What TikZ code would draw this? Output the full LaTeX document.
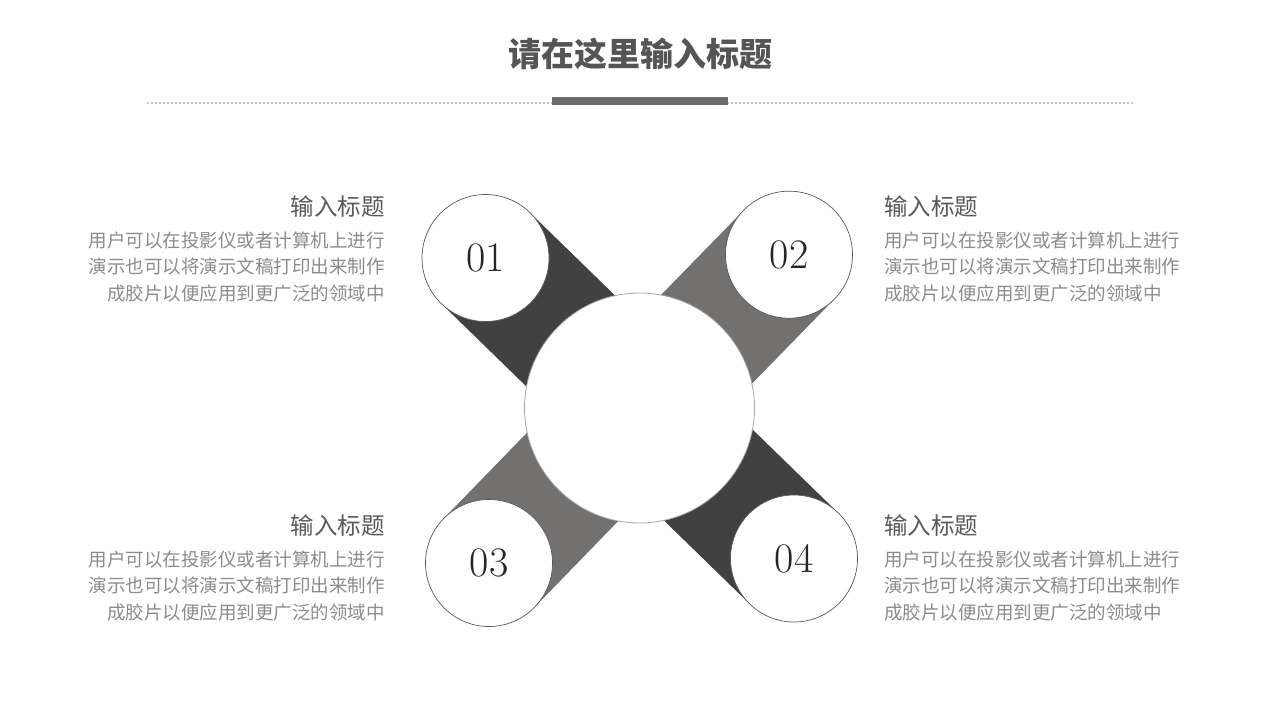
\documentclass[tikz,border=0pt]{standalone}
\usepackage{fontspec}
\newfontfamily\cjk{Noto Sans CJK SC}
\definecolor{dk}{HTML}{414141}
\definecolor{md}{HTML}{737070}
\definecolor{ttl}{HTML}{555555}
\definecolor{hd}{HTML}{595959}
\definecolor{bd}{HTML}{8C8C8C}
\definecolor{bar}{HTML}{6D6D6D}
\tikzset{
  band/.style={line width=127pt},
  smallc/.style={circle,minimum size=127pt,inner sep=0pt,fill=white,draw=black!65,line width=0.7pt,
    font=\fontsize{42}{44}\selectfont,text=black!85},
  bigc/.style={circle,minimum size=230pt,inner sep=0pt,fill=white,draw=black!35,line width=0.8pt},
  head/.style={font=\cjk\fontsize{23.5}{26}\selectfont,text=hd,inner sep=0pt},
  body/.style={font=\cjk\fontsize{18.5}{20}\selectfont,text=bd,inner sep=0pt},
}
\begin{document}
\begin{tikzpicture}[x=1pt,y=-1pt]
\useasboundingbox (0,0) rectangle (1280,720);
\fill[white] (0,0) rectangle (1280,720);
% title
\node[font=\cjk\bfseries\fontsize{33}{36}\selectfont,text=ttl] (title) at (640,54) {请在这里输入标题};
\coordinate (dl) at (147,103);
\coordinate (dr) at (1133,103);
\draw[black!22,line width=2pt,dash pattern=on 2pt off 2pt] (dl) -- (dr);
\fill[bar] (552,97) rectangle (728,105);
% centres
\coordinate (p0) at (639.5,408);
\coordinate (p1) at (485.5,258);
\coordinate (p2) at (789,254.7);
\coordinate (p3) at (489,563);
\coordinate (p4) at (794,558.5);
% bands
\draw[band,dk] (p1) -- (p0);
\draw[band,md] (p2) -- (p0);
\draw[band,md] (p3) -- (p0);
\draw[band,dk] (p4) -- (p0);
% circles
\node[bigc] (c0) at (p0) {};
\node[smallc] (c1) at (p1) {01};
\node[smallc] (c2) at (p2) {02};
\node[smallc] (c3) at (p3) {03};
\node[smallc] (c4) at (p4) {04};
% text blocks
\foreach \n/\x/\y/\a in {l1/385/207/east, r1/884/207/west, l2/385/526/east, r2/884/526/west}{
  \node[head,anchor=\a] (\n h) at (\x,\y) {输入标题};
  \node[body,anchor=\a] (\n a) at (\x,\y+33) {用户可以在投影仪或者计算机上进行};
  \node[body,anchor=\a] (\n b) at (\x,\y+59.5) {演示也可以将演示文稿打印出来制作};
  \node[body,anchor=\a] (\n c) at (\x,\y+86) {成胶片以便应用到更广泛的领域中};
}
\end{tikzpicture}
\end{document}
